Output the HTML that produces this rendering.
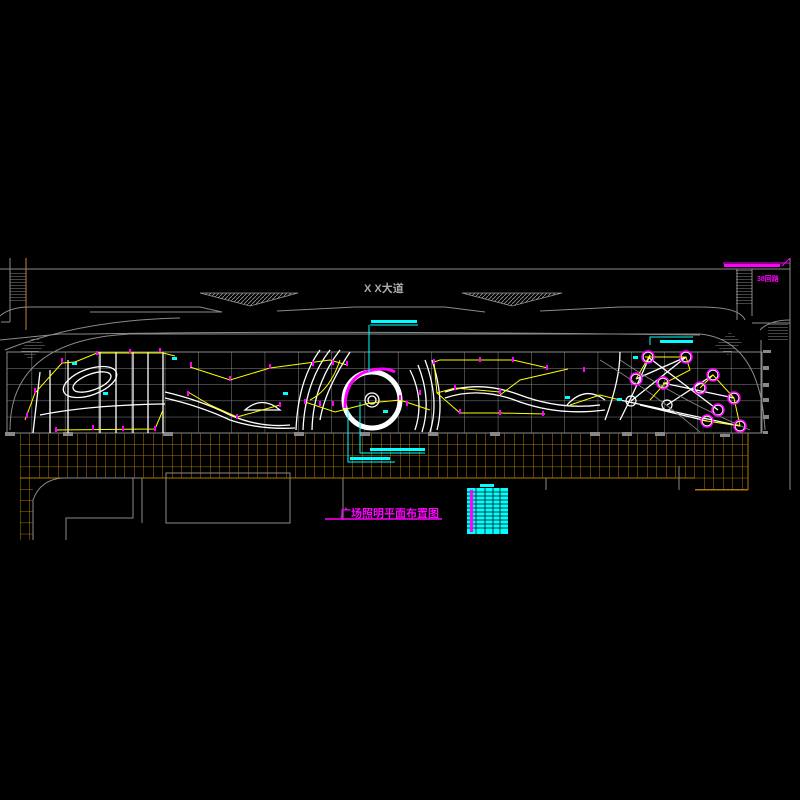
<!DOCTYPE html>
<html><head><meta charset="utf-8"><style>
html,body{margin:0;padding:0;background:#000;}
svg{display:block;}
text{font-family:"Liberation Sans","Noto Sans CJK SC",sans-serif;}
</style></head><body>
<svg width="800" height="800" viewBox="0 0 800 800" xmlns="http://www.w3.org/2000/svg">
<defs>
<pattern id="og" x="20" y="433" width="9.5" height="11.2" patternUnits="userSpaceOnUse">
<path d="M0 0V11.2M0 0H9.5" stroke="#b07a00" stroke-width="1" fill="none"/>
</pattern>
<pattern id="gg" x="31.6" y="352" width="33.3" height="16.2" patternUnits="userSpaceOnUse">
<path d="M0 0V16.2M0 0H33.3" stroke="#8a8a8a" stroke-width="1" fill="none"/>
</pattern>
<pattern id="hatch" width="4" height="4" patternUnits="userSpaceOnUse">
<path d="M0 4L4 0" stroke="#999" stroke-width="0.8"/>
</pattern>
<pattern id="stair" width="6" height="3" patternUnits="userSpaceOnUse">
<path d="M0 0H6" stroke="#aaa" stroke-width="0.8"/>
</pattern>
</defs>
<rect width="800" height="800" fill="#000"/>

<!-- road -->
<g stroke="#8a8a8a" fill="none" stroke-width="1">
<line x1="0" y1="269" x2="790" y2="269"/>
<line x1="10" y1="258" x2="10" y2="322"/>
<line x1="1" y1="322" x2="10" y2="322"/>
<path d="M0 316 Q10 307 30 307 L200 307 L222 312"/>
<path d="M90 312 L200 312 L222 312"/>
<path d="M277 311 L355 307 L445 307 L485 312"/>
<path d="M540 311 L620 307 L700 307 Q740 307 745 320"/>
<line x1="737" y1="269" x2="737" y2="320"/>
<line x1="752" y1="269" x2="752" y2="316"/>
<line x1="752" y1="323" x2="790" y2="323"/>
<line x1="790" y1="258" x2="790" y2="490"/>
<line x1="761" y1="340" x2="761" y2="433"/>
<path d="M0 340 Q40 336 60 334 L90 334 Q300 330 700 335"/>
<path d="M5 350 Q80 320 180 318"/>
<path d="M10 430 Q10 340 130 334 L700 334 Q760 340 765 430"/>
<path d="M760 330 Q770 320 790 320"/>
</g>
<rect x="10" y="272" width="16" height="30" fill="url(#stair)"/>
<rect x="736" y="270" width="16" height="36" fill="url(#stair)"/>
<rect x="768" y="323" width="20" height="18" fill="url(#stair)"/>
<polygon points="20,350 35,335 45,345 30,360" fill="url(#stair)"/>
<polygon points="715,345 730,332 742,342 728,355" fill="url(#stair)"/>
<polygon points="200,293 298,293 250,306" fill="url(#hatch)" stroke="#999" stroke-width="0.8"/>
<polygon points="462,293 562,293 512,306" fill="url(#hatch)" stroke="#999" stroke-width="0.8"/>
<text x="364" y="292" font-size="11" fill="#aaa" font-weight="bold">X X大道</text>
<line x1="26" y1="258" x2="26" y2="330" stroke="#c08040" stroke-width="1"/>

<!-- orange grid -->
<rect x="20" y="433" width="675" height="45" fill="url(#og)"/>
<rect x="695" y="433" width="53" height="57" fill="url(#og)"/>
<rect x="20" y="478" width="13" height="62" fill="url(#og)"/>
<g stroke="#b07a00" fill="none">
<line x1="20" y1="433" x2="748" y2="433"/>
<line x1="20" y1="478" x2="695" y2="478"/>
<line x1="695" y1="490" x2="748" y2="490"/>
<line x1="748" y1="433" x2="748" y2="490"/>
</g>
<!-- below shapes -->
<g stroke="#8a8a8a" fill="none">
<path d="M33 540 L33 500 Q40 480 62 478 L140 478"/>
<path d="M66 540 L66 518 L133 518 L133 478"/>
<rect x="166" y="473" width="124" height="50"/>
<line x1="142" y1="478" x2="142" y2="523"/>
<line x1="343" y1="478" x2="343" y2="520"/>
<line x1="546" y1="478" x2="546" y2="490"/>
<line x1="679" y1="466" x2="679" y2="490"/>
</g>

<!-- plaza grid -->
<rect x="7" y="352" width="755" height="81" fill="url(#gg)"/>
<rect x="7" y="352" width="755" height="81" fill="none" stroke="#8a8a8a"/>
<g fill="#888">
<rect x="5" y="432" width="10" height="4"/><rect x="63" y="432" width="10" height="4"/>
<rect x="163" y="432" width="10" height="4"/><rect x="294" y="432" width="10" height="4"/>
<rect x="360" y="432" width="10" height="4"/><rect x="428" y="432" width="10" height="4"/>
<rect x="490" y="432" width="10" height="4"/><rect x="590" y="432" width="10" height="4"/>
<rect x="622" y="432" width="10" height="4"/><rect x="655" y="432" width="10" height="4"/>
<rect x="720" y="434" width="10" height="3"/>
<rect x="763" y="350" width="8" height="3"/><rect x="763" y="366" width="6" height="4"/>
<rect x="763" y="383" width="6" height="4"/><rect x="763" y="398" width="6" height="4"/>
<rect x="763" y="415" width="6" height="4"/><rect x="763" y="431" width="5" height="3"/>
</g>

<!-- white features -->
<g stroke="#fff" fill="none" stroke-width="1.3">
<ellipse cx="90" cy="382" rx="28" ry="13" transform="rotate(-20 90 382)"/>
<ellipse cx="92" cy="382" rx="20" ry="8" transform="rotate(-20 92 382)"/>
<line x1="33" y1="433" x2="40" y2="372"/><line x1="50" y1="433" x2="50" y2="370"/>
<line x1="68" y1="433" x2="68" y2="360"/><line x1="100" y1="433" x2="100" y2="352"/>
<line x1="116" y1="433" x2="116" y2="352"/><line x1="133" y1="433" x2="133" y2="352"/>
<line x1="148" y1="433" x2="148" y2="352"/><line x1="163" y1="433" x2="163" y2="352"/>
<path d="M40 415 Q90 405 165 404"/>
<path d="M165 392 Q200 400 230 415 Q260 428 290 425"/>
<path d="M165 398 Q200 406 230 420 Q260 430 295 428"/>
<path d="M245 410 Q262 395 280 410 Z"/>
<path d="M296 430 Q298 380 320 350"/><path d="M303 430 Q305 382 330 350"/>
<path d="M312 430 Q313 385 340 350"/><path d="M320 420 Q325 390 350 352"/>
<circle cx="372" cy="400" r="28" stroke-width="5"/>
<circle cx="372" cy="400" r="7"/><circle cx="372" cy="400" r="4"/>
<path d="M415 430 Q425 400 410 370"/><path d="M422 432 Q432 400 418 365"/>
<path d="M430 432 Q440 400 425 360"/><path d="M437 430 Q445 400 432 360"/>
<path d="M445 392 Q480 380 520 395 Q560 410 600 405"/>
<path d="M445 398 Q480 386 520 402 Q560 416 605 410"/>
<path d="M567 405 Q585 385 605 400"/>
<path d="M605 420 Q620 380 620 352"/><path d="M620 420 Q640 380 650 355"/>
<g stroke-width="1.2">
<circle cx="648" cy="357" r="5"/><circle cx="686" cy="357" r="5"/>
<circle cx="636" cy="379" r="5"/><circle cx="663" cy="383" r="5"/>
<circle cx="631" cy="401" r="5"/><circle cx="667" cy="405" r="5"/>
<circle cx="700" cy="388" r="5"/><circle cx="713" cy="375" r="5"/>
<circle cx="734" cy="398" r="5"/><circle cx="718" cy="410" r="5"/>
<circle cx="707" cy="421" r="5"/><circle cx="740" cy="426" r="5"/>
</g>
<path d="M636 379 L686 357 M631 401 L686 357 M667 405 L713 375 M663 383 L734 398 M648 357 L718 410 M620 400 L740 426 M640 405 L707 421"/>
</g>
<g stroke="#888" fill="none" stroke-width="0.8">
<path d="M600 360 Q650 390 700 432"/><path d="M620 360 Q680 400 750 430"/>
</g>

<!-- yellow circuits -->
<g stroke="#ffff00" fill="none" stroke-width="1">
<path d="M25 420 L35 393 L62 363 L75 362 L97 353 L163 353 L175 356"/>
<path d="M56 430 L155 429 L163 410"/>
<path d="M190 367 L230 380 L270 368 L330 360 L347 365"/>
<path d="M188 392 L210 405 L237 417 L280 405"/>
<path d="M305 402 L335 412 L370 403 L400 400 L430 410"/>
<path d="M310 400 Q330 390 340 360"/>
<path d="M434 362 L440 360 L480 360 L513 360 L548 368"/>
<path d="M434 362 L437 393 L455 388 L500 392"/>
<path d="M437 393 L460 413 L500 413 L545 414"/>
<path d="M568 369 L520 380 L500 395"/>
<path d="M645 357 L686 357 L690 370 L665 383 L650 400 M636 379 L650 355 M700 388 L713 375 L734 398 L740 426 L700 420"/>
<path d="M570 405 L600 395 L620 400"/>
</g>

<!-- magenta fixtures -->
<g stroke="#ff00ff" fill="none" stroke-width="2">
<path d="M130 353 v-4 M160 352 v-4 M97 355 v-4 M62 363 v-5 M35 393 v-5 M27 418 v-5"/>
<path d="M56 432 v-5 M93 430 v-5 M123 431 v-5 M155 431 v-5"/>
<path d="M191 367 v-5 M230 381 v-5 M270 369 v-5 M188 396 v-5 M237 419 v-5 M280 407 v-5"/>
<path d="M313 366 v-5 M333 365 v-5 M347 366 v-5 M305 404 v-5 M320 406 v-5 M333 406 v-5"/>
<path d="M434 364 v-5 M480 362 v-5 M513 362 v-5 M547 370 v-5 M584 372 v-5 M455 390 v-5 M500 394 v-5 M460 414 v-5 M500 415 v-5 M543 416 v-5"/>
<path d="M400 400 v-5 M420 395 v-5 M407 406 v-5"/>
</g>
<g fill="none" stroke="#ff00ff" stroke-width="3">
<path d="M345 408 Q345 380 365 372 Q385 366 395 372"/>
</g>
<g fill="none" stroke="#ff00ff" stroke-width="1.5">
<circle cx="648" cy="357" r="6"/><circle cx="686" cy="357" r="6"/>
<circle cx="636" cy="379" r="6"/><circle cx="663" cy="383" r="6"/>
<circle cx="700" cy="388" r="6"/><circle cx="713" cy="375" r="6"/>
<circle cx="734" cy="398" r="6"/><circle cx="718" cy="410" r="6"/>
<circle cx="707" cy="421" r="6"/><circle cx="740" cy="426" r="6"/>
</g>

<!-- cyan leaders -->
<g stroke="#00ffff" fill="none" stroke-width="1">
<path d="M369 325 L369 372 M370 325 L418 325"/>
<path d="M360 402 L360 453 L425 453"/>
<path d="M348 410 L348 462 L395 462"/>
<path d="M650 345 L650 337 L693 337"/>
</g>
<g fill="#00ffff">
<rect x="371" y="320" width="46" height="3"/>
<rect x="370" y="448" width="55" height="3"/>
<rect x="350" y="457" width="40" height="3"/>
<rect x="660" y="340" width="33" height="3"/>
<rect x="72" y="362" width="5" height="3"/><rect x="172" y="357" width="5" height="3"/>
<rect x="103" y="392" width="5" height="3"/><rect x="283" y="392" width="5" height="3"/>
<rect x="383" y="410" width="5" height="3"/><rect x="565" y="396" width="5" height="3"/>
<rect x="633" y="356" width="5" height="3"/><rect x="617" y="398" width="5" height="3"/>
</g>

<!-- top right label -->
<line x1="723" y1="263" x2="790" y2="263" stroke="#ff00ff"/>
<rect x="724" y="264" width="56" height="3" fill="#ff00ff"/>
<text x="757" y="281" font-size="7" fill="#ff00ff" font-weight="bold">38回路</text>
<line x1="782" y1="266" x2="790" y2="258" stroke="#ff00ff"/>

<!-- title -->
<text x="340" y="517" font-size="11" fill="#ff00ff" font-weight="bold">广场照明平面布置图</text>
<line x1="325" y1="519" x2="442" y2="519" stroke="#ff00ff" stroke-width="1.5"/>

<!-- table -->
<rect x="480" y="484" width="14" height="3" fill="#00ffff"/>
<rect x="467" y="488" width="41" height="46" fill="#00ffff"/>
<g stroke="#000" stroke-width="0.7">
<line x1="467" y1="492" x2="508" y2="492"/><line x1="467" y1="496" x2="508" y2="496"/>
<line x1="467" y1="500" x2="508" y2="500"/><line x1="467" y1="504" x2="508" y2="504"/>
<line x1="467" y1="508" x2="508" y2="508"/><line x1="467" y1="512" x2="508" y2="512"/>
<line x1="467" y1="516" x2="508" y2="516"/><line x1="467" y1="520" x2="508" y2="520"/>
<line x1="467" y1="524" x2="508" y2="524"/><line x1="467" y1="528" x2="508" y2="528"/>
<line x1="476" y1="488" x2="476" y2="534"/><line x1="485" y1="488" x2="485" y2="534"/>
<line x1="493" y1="488" x2="493" y2="534"/><line x1="500" y1="488" x2="500" y2="534"/>
</g>
<rect x="470" y="490" width="3" height="42" fill="#ff00ff"/>
</svg>
</body></html>
